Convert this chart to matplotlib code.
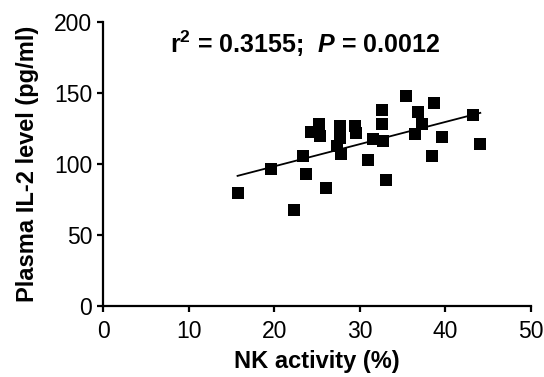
import numpy as np
import matplotlib
matplotlib.use("Agg")
import matplotlib.pyplot as plt

plt.rcParams['font.family'] = ['Liberation Sans', 'DejaVu Sans']
plt.rcParams['mathtext.fontset'] = 'custom'
plt.rcParams['mathtext.rm'] = 'Liberation Sans:bold'
plt.rcParams['mathtext.it'] = 'Liberation Sans:bold:italic'
plt.rcParams['mathtext.bf'] = 'Liberation Sans:bold'

# Data
nk_activity = [15.7, 19.6, 22.3, 23.4, 23.7, 24.3, 25.2, 25.3, 26.0, 27.7,
               27.7, 27.3, 27.8, 29.4, 29.6, 31.0, 31.5, 32.6, 32.6, 32.7,
               33.1, 35.4, 36.5, 36.8, 37.3, 38.5, 38.7, 39.6, 43.2, 44.1]
il2_level = [79.4, 96.3, 67.6, 105.6, 92.7, 122.2, 128.3, 119.5, 82.9, 126.8,
             118.1, 113.0, 107.3, 126.8, 122.0, 102.8, 117.9, 138.0, 128.0, 116.2,
             88.7, 148.1, 121.0, 136.3, 128.0, 105.6, 142.7, 118.8, 134.2, 113.9]

x_ticks = [0, 10, 20, 30, 40, 50]
y_ticks = [0, 50, 100, 150, 200]
x_label = "NK activity (%)"
y_label = "Plasma IL-2 level (pg/ml)"
stat_text = r"r$^{2}$ = 0.3155;  $P$ = 0.0012"

fig = plt.figure(figsize=(5.44, 3.77), dpi=100)
ax = fig.add_axes([0.19, 0.1883, 0.7856, 0.7533])

x = np.array(nk_activity)
y = np.array(il2_level)
slope, intercept = np.polyfit(x, y, 1)
xl = np.array([x.min(), x.max()])
ax.plot(xl, slope * xl + intercept, color='black', lw=1.3, zorder=2)
ax.plot(x, y, 's', color='black', markersize=8.8, markeredgewidth=0, zorder=3)

ax.set_xlim(0, 50)
ax.set_ylim(0, 200)
ax.set_xticks(x_ticks)
ax.set_yticks(y_ticks)
for s in ['top', 'right']:
    ax.spines[s].set_visible(False)
for s in ['left', 'bottom']:
    ax.spines[s].set_linewidth(1.6)
ax.tick_params(axis='both', direction='out', length=4, width=1.6,
               labelsize=16.5, pad=4)
ax.tick_params(axis='x', pad=6)
ax.set_xlabel(x_label, fontsize=17, fontweight='bold', labelpad=5)
ax.set_ylabel(y_label, fontsize=17, fontweight='bold', labelpad=11)

ax.text(0.471, 0.891, stat_text, transform=ax.transAxes, ha='center',
        va='baseline', fontsize=18, fontweight='bold')

fig.savefig("out.png", dpi=100)
